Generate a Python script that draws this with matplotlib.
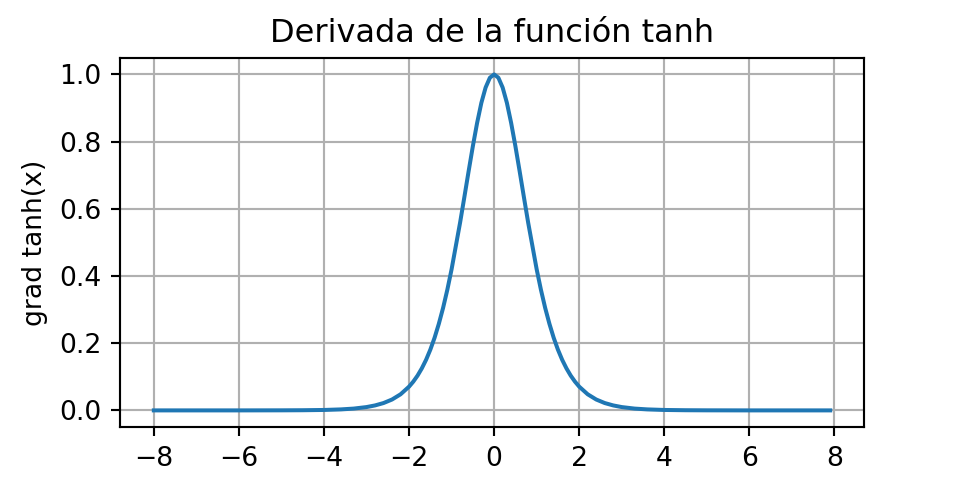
import matplotlib
matplotlib.use('Agg')
import matplotlib.pyplot as plt

# Values (symmetric around x = 0)
x_right = [0.0, 0.1, 0.2, 0.3, 0.4, 0.5, 0.6, 0.7, 0.8, 0.9, 1.0, 1.1, 1.2, 1.3,
           1.4, 1.5, 1.6, 1.7, 1.8, 1.9, 2.0, 2.2, 2.4, 2.6, 2.8, 3.0, 3.3, 3.6,
           4.0, 4.5, 5.0, 6.0, 7.0, 7.9]
y_right = [1.0, 0.9901, 0.9610, 0.9154, 0.8556, 0.7864, 0.7116, 0.6347, 0.5590,
           0.4895, 0.4200, 0.3592, 0.3050, 0.2577, 0.2162, 0.1807, 0.1505, 0.1251,
           0.1036, 0.0857, 0.0707, 0.0479, 0.0324, 0.0219, 0.0148, 0.0099, 0.0054,
           0.0030, 0.0013, 0.0005, 0.0002, 0.0, 0.0, 0.0]

x = [-v for v in reversed(x_right[1:])] + x_right
x[0] = -8.0
y = list(reversed(y_right[1:])) + y_right

fig = plt.figure(figsize=(5, 2.5), dpi=192)
ax = fig.add_subplot(111)
ax.plot(x, y)
ax.set_xticks([-8, -6, -4, -2, 0, 2, 4, 6, 8])
ax.set_title('Derivada de la función tanh')
ax.set_ylabel('grad tanh(x)')
ax.grid(True)
fig.savefig('out.png', dpi=192)
